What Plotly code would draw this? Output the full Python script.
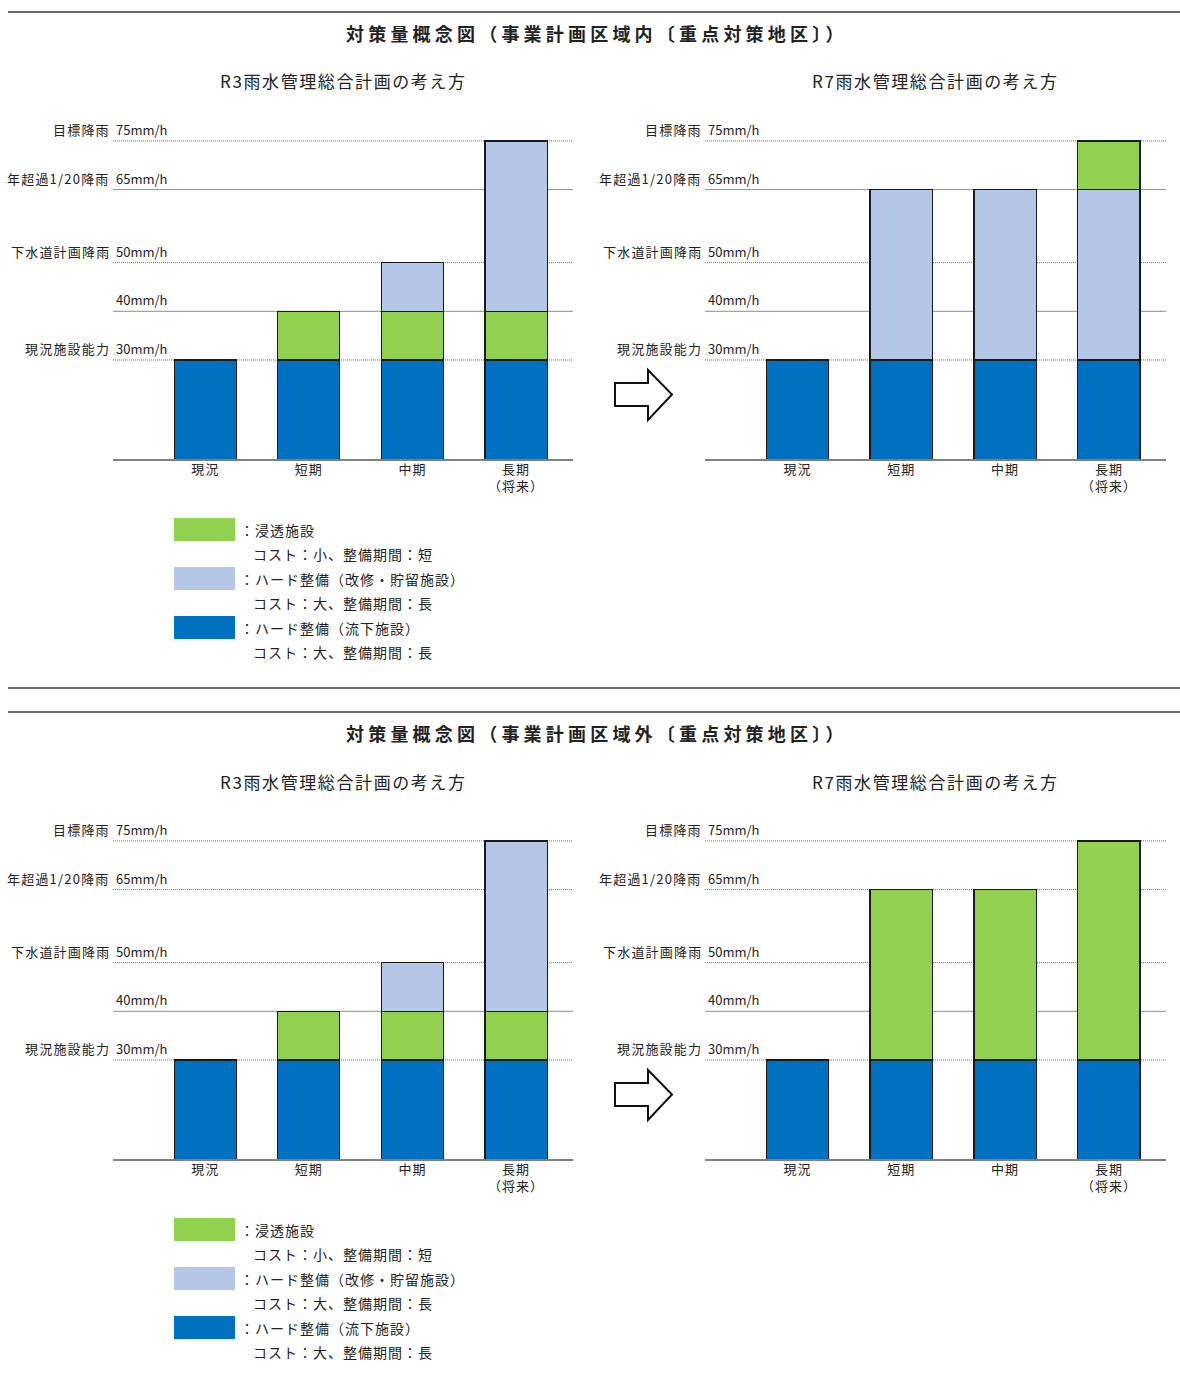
import plotly.graph_objects as go

W, H = 1180, 1383

def px(x):
    return x / W

def py(y):
    return 1 - y / H

# ---------------- data ----------------
categories = ["現況", "短期", "中期", "長期（将来）"]
tick_labels = ["現況", "短期", "中期", "長期<br>（将来）"]

# R3 plan (same in both sections)
r3_blue = [30, 30, 30, 30]
r3_green = [None, 10, 10, 10]
r3_light = [None, None, 10, 35]

# R7 plan, section 1 (inside project area)
r7a_blue = [30, 30, 30, 30]
r7a_light = [None, 35, 35, 35]
r7a_green = [None, None, None, 10]

# R7 plan, section 2 (outside project area)
r7b_blue = [30, 30, 30, 30]
r7b_green = [None, 35, 35, 45]

levels = [75, 65, 50, 40, 30]
level_names = ["目標降雨", "年超過1/20降雨", "下水道計画降雨", "", "現況施設能力"]
level_texts = ["75mm/h", "65mm/h", "50mm/h", "40mm/h", "30mm/h"]

section_titles = ["対策量概念図（事業計画区域内〔重点対策地区〕）",
                  "対策量概念図（事業計画区域外〔重点対策地区〕）"]
sub_titles = ["R3雨水管理総合計画の考え方", "R7雨水管理総合計画の考え方"]

legend_names = ["浸透施設", "ハード整備（改修・貯留施設）", "ハード整備（流下施設）"]
legend_notes = ["コスト：小、整備期間：短", "コスト：大、整備期間：長", "コスト：大、整備期間：長"]

# ---------------- style ----------------
BLUE = "#0070C0"
GREEN = "#92D050"
LIGHT = "#B4C7E7"
FONT = "Noto Sans CJK JP"
TXT = "#222222"


def spaced(t, sp):
    return f'<span style="letter-spacing:{sp}px">{t}</span>'


fig = go.Figure()

panels = [
    dict(n="", x0=113, x1=573, base=459, top=120,
         stack=[(r3_blue, BLUE), (r3_green, GREEN), (r3_light, LIGHT)]),
    dict(n="2", x0=705, x1=1166, base=459, top=120,
         stack=[(r7a_blue, BLUE), (r7a_light, LIGHT), (r7a_green, GREEN)]),
    dict(n="3", x0=113, x1=573, base=1159, top=820,
         stack=[(r3_blue, BLUE), (r3_green, GREEN), (r3_light, LIGHT)]),
    dict(n="4", x0=705, x1=1166, base=1159, top=820,
         stack=[(r7b_blue, BLUE), (r7b_green, GREEN)]),
]

YR = [9.66, 79.3]
XR = [-0.89, 3.55]

shapes = []
annotations = []

for i, p in enumerate(panels):
    n = p["n"]
    xa = "x" + n
    ya = "y" + n
    for vals, col in p["stack"]:
        fig.add_trace(go.Bar(
            x=categories, y=vals, xaxis=xa, yaxis=ya, width=0.6,
            marker=dict(color=col, line=dict(color="#1a1a1a", width=1.2)),
            showlegend=False, hoverinfo="skip"))
    xkey = "xaxis" + n
    ykey = "yaxis" + n
    fig.layout[xkey] = dict(
        domain=[px(p["x0"]), px(p["x1"])], anchor=ya, range=XR,
        type="category", categoryorder="array", categoryarray=categories,
        tickvals=categories, ticktext=[spaced(t, 1) for t in tick_labels],
        ticks="", ticklen=0, ticklabelstandoff=-2,
        showline=True, linecolor="#808080", linewidth=1.5, showgrid=False,
        zeroline=False, fixedrange=True,
        tickfont=dict(family=FONT, size=13, color=TXT))
    fig.layout[ykey] = dict(
        domain=[py(p["base"]), py(p["top"])], anchor=xa, range=YR,
        visible=False, showgrid=False, zeroline=False, fixedrange=True)

    bottom_sec = i >= 2
    for lv, nm, tx in zip(levels, level_names, level_texts):
        if lv in (75, 50, 30) or (lv == 65 and bottom_sec):
            dash = "1px,1px"
            lc = "#6e6e6e"
        else:
            dash = "solid"
            lc = "#8c8c8c"
        shapes.append(dict(type="line", xref=xa + " domain", yref=ya,
                           x0=0, x1=1, y0=lv, y1=lv, layer="below",
                           line=dict(color=lc, width=1, dash=dash)))
        annotations.append(dict(xref="paper", yref=ya, x=px(p["x0"] + 1), y=lv,
                                text=tx, showarrow=False, xanchor="left",
                                yanchor="bottom", yshift=0,
                                font=dict(family=FONT, size=13, color=TXT)))
        if nm:
            annotations.append(dict(xref="paper", yref=ya, x=px(p["x0"] - 1), y=lv,
                                    text=spaced(nm, 1.2), showarrow=False, xanchor="right",
                                    yanchor="bottom", yshift=0,
                                    font=dict(family=FONT, size=13, color=TXT)))

# sections: separators, titles, legends, arrows
for s in range(2):
    off = 700 * s
    annotations.append(dict(xref="paper", yref="paper", x=px(597), y=py(33 + off),
                            text="<b>" + spaced(section_titles[s], 4.2) + "</b>",
                            showarrow=False, xanchor="center", yanchor="middle",
                            font=dict(family=FONT, size=18, color=TXT)))
    for j, cx in enumerate([343, 935]):
        annotations.append(dict(xref="paper", yref="paper", x=px(cx), y=py(81 + off),
                                text=spaced(sub_titles[j], 1.6), showarrow=False,
                                xanchor="center", yanchor="middle",
                                font=dict(family=FONT, size=17, color=TXT)))
    # legend
    for k, col in enumerate([GREEN, LIGHT, BLUE]):
        ty = 518 + 49 * k + off
        shapes.append(dict(type="rect", xref="paper", yref="paper",
                           x0=px(174), x1=px(235), y0=py(ty), y1=py(ty + 23),
                           fillcolor=col, line=dict(width=0)))
        annotations.append(dict(xref="paper", yref="paper", x=px(238), y=py(ty + 12),
                                text=spaced("：" + legend_names[k], 1), showarrow=False,
                                xanchor="left", yanchor="middle",
                                font=dict(family=FONT, size=14, color=TXT)))
        annotations.append(dict(xref="paper", yref="paper", x=px(251), y=py(ty + 36),
                                text=spaced(legend_notes[k], 1), showarrow=False,
                                xanchor="left", yanchor="middle",
                                font=dict(family=FONT, size=14, color=TXT)))
    # arrow
    pts = [(615, 383), (648, 383), (648, 370), (672, 394.5), (648, 420),
           (648, 406), (615, 406)]
    path = "M " + " L ".join(f"{px(x):.5f},{py(y + off):.5f}" for x, y in pts) + " Z"
    shapes.append(dict(type="path", xref="paper", yref="paper", path=path,
                       fillcolor="white", line=dict(color="#111111", width=2)))

# separator lines
for yy in [12, 688, 712]:
    shapes.append(dict(type="line", xref="paper", yref="paper",
                       x0=px(8), x1=px(1180), y0=py(yy), y1=py(yy),
                       line=dict(color="#3a3a3a", width=1.5)))

fig.update_layout(
    width=W, height=H, margin=dict(l=0, r=0, t=0, b=0, pad=0),
    paper_bgcolor="white", plot_bgcolor="white",
    barmode="stack", bargap=0.4, showlegend=False,
    shapes=shapes, annotations=annotations,
    font=dict(family=FONT, color=TXT),
)

fig.write_html("out.html")
